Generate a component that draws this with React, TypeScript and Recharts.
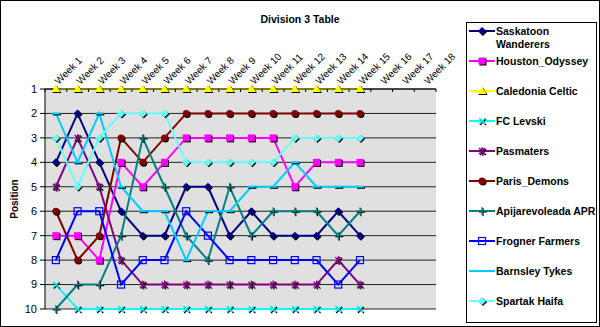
import React from "react"
import { LineChart, Line, XAxis, YAxis, CartesianGrid } from "recharts"

const weeks = [
  "Week 1", "Week 2", "Week 3", "Week 4", "Week 5", "Week 6", "Week 7", "Week 8", "Week 9",
  "Week 10", "Week 11", "Week 12", "Week 13", "Week 14", "Week 15", "Week 16", "Week 17", "Week 18",
]
const positions = [1, 2, 3, 4, 5, 6, 7, 8, 9, 10]

const saskatoon = [4, 2, 4, 6, 7, 7, 5, 5, 7, 6, 7, 7, 7, 6, 7]
const houston = [7, 7, 8, 4, 5, 4, 3, 3, 3, 3, 3, 5, 4, 4, 4]
const caledonia = [1, 1, 1, 1, 1, 1, 1, 1, 1, 1, 1, 1, 1, 1, 1]
const levski = [9, 10, 10, 10, 10, 10, 10, 10, 10, 10, 10, 10, 10, 10, 10]
const pasmaters = [5, 3, 5, 8, 9, 9, 9, 9, 9, 9, 9, 9, 9, 8, 9]
const paris = [6, 8, 7, 3, 4, 3, 2, 2, 2, 2, 2, 2, 2, 2, 2]
const apijarevoleada = [10, 9, 9, 7, 3, 5, 7, 8, 5, 7, 6, 6, 6, 7, 6]
const frogner = [8, 6, 6, 9, 8, 8, 6, 7, 8, 8, 8, 8, 8, 9, 8]
const barnsley = [2, 4, 2, 5, 6, 6, 8, 6, 6, 5, 5, 4, 5, 5, 5]
const spartak = [3, 5, 3, 2, 2, 2, 4, 4, 4, 4, 4, 3, 3, 3, 3]

type Shape = "diamond" | "square" | "triangle" | "x" | "asterisk" | "circle" | "plus" | "openSquare" | "dash"

const series: { key: string; name: string; color: string; shape: Shape; values: number[] }[] = [
  { key: "saskatoon", name: "Saskatoon Wanderers", color: "#000080", shape: "diamond", values: saskatoon },
  { key: "houston", name: "Houston_Odyssey", color: "#FF00FF", shape: "square", values: houston },
  { key: "caledonia", name: "Caledonia Celtic", color: "#FFFF00", shape: "triangle", values: caledonia },
  { key: "levski", name: "FC Levski", color: "#00FFFF", shape: "x", values: levski },
  { key: "pasmaters", name: "Pasmaters", color: "#800080", shape: "asterisk", values: pasmaters },
  { key: "paris", name: "Paris_Demons", color: "#800000", shape: "circle", values: paris },
  { key: "apijarevoleada", name: "Apijarevoleada APR", color: "#008080", shape: "plus", values: apijarevoleada },
  { key: "frogner", name: "Frogner Farmers", color: "#0000FF", shape: "openSquare", values: frogner },
  { key: "barnsley", name: "Barnsley Tykes", color: "#00CCFF", shape: "dash", values: barnsley },
  { key: "spartak", name: "Spartak Haifa", color: "#66FFFF", shape: "diamond", values: spartak },
]

const rows = weeks.map((week, i) => {
  const row: Record<string, any> = { week }
  series.forEach((s) => {
    row[s.key] = s.values[i]
  })
  return row
})

const W = 600
const H = 327
const LEFT = 45
const RIGHT_MARGIN = 164
const TOP = 89
const BOTTOM_MARGIN = 18
const STEP = (W - LEFT - RIGHT_MARGIN) / weeks.length
const FONT = "'Liberation Sans', Arial, sans-serif"

function shapeBody(shape: Shape, color: string, dx: number, dy: number) {
  const t = `translate(${dx},${dy})`
  switch (shape) {
    case "diamond":
      return <polygon transform={t} points="0,-4 4,0 0,4 -4,0" fill={color} />
    case "square":
      return <rect transform={t} x={-3.5} y={-3.5} width={7} height={7} fill={color} />
    case "triangle":
      return <polygon transform={t} points="0,-4.5 4.5,3 -4.5,3" fill={color} />
    case "circle":
      return <circle transform={t} r={3.5} fill={color} />
    case "x":
      return <path transform={t} d="M-3,-3L3,3M-3,3L3,-3" stroke={color} strokeWidth={1.2} />
    case "asterisk":
      return <path transform={t} d="M-3,-3L3,3M-3,3L3,-3M0,-4L0,4" stroke={color} strokeWidth={1.2} />
    case "plus":
      return <path transform={t} d="M-4,0L4,0M0,-4L0,4" stroke={color} strokeWidth={1.2} />
    case "openSquare":
      return <rect transform={t} x={-3.5} y={-3.5} width={7} height={7} fill="none" stroke={color} strokeWidth={1.2} />
    case "dash":
      return <path transform={t} d="M-4,0L4,0" stroke={color} strokeWidth={2} />
  }
}

function Marker({ cx, cy, shape, color }: { cx: number; cy: number; shape: Shape; color: string }) {
  return (
    <g transform={`translate(${cx},${cy})`}>
      {shape !== "openSquare" && shapeBody(shape, "#000", 1, 1)}
      {shapeBody(shape, color, 0, 0)}
    </g>
  )
}

function makeDot(shape: Shape, color: string) {
  return (p: any) => {
    if (p.cx == null || p.cy == null || p.value == null) return <g key={`d-${p.index}`} />
    return (
      <g key={`d-${p.index}`}>
        <Marker cx={p.cx} cy={p.cy} shape={shape} color={color} />
      </g>
    )
  }
}

function WeekTick(props: any) {
  const { x, y, payload, index } = props
  const axisY = y + 4
  return (
    <g>
      <line x1={x - STEP / 2} x2={x - STEP / 2} y1={axisY} y2={axisY + 3} stroke="#000" />
      {index === weeks.length - 1 && (
        <line x1={x + STEP / 2} x2={x + STEP / 2} y1={axisY} y2={axisY + 3} stroke="#000" />
      )}
      <text
        x={x + 3}
        y={y}
        transform={`rotate(-45 ${x + 3} ${y})`}
        fontSize={10}
        fontFamily={FONT}
        fill="#000"
      >
        {payload.value}
      </text>
    </g>
  )
}

function LegendBox() {
  return (
    <div
      style={{
        position: "absolute",
        left: 466,
        top: 22,
        width: 131,
        height: 301,
        border: "1px solid #000",
        boxSizing: "border-box",
        background: "#fff",
      }}
    >
      {series.map((s, i) => (
        <div
          key={s.key}
          style={{ position: "absolute", left: 2, top: 1 + i * 30, display: "flex", alignItems: "flex-start" }}
        >
          <svg width={27} height={14} style={{ flex: "none" }}>
            <line x1={0} x2={26} y1={7} y2={7} stroke={s.color} strokeWidth={2} />
            {s.shape !== "dash" && <Marker cx={13} cy={7} shape={s.shape} color={s.color} />}
          </svg>
          <span
            style={{
              fontFamily: FONT,
              fontWeight: "bold",
              fontSize: 10.5,
              lineHeight: "13px",
              marginTop: 1,
              whiteSpace: i === 0 ? "normal" : "nowrap",
              width: i === 0 ? 80 : undefined,
            }}
          >
            {s.name}
          </span>
        </div>
      ))}
    </div>
  )
}

export default function App() {
  return (
    <div style={{ position: "absolute", left: 0, top: 0, width: W, height: H, background: "#fff", fontFamily: FONT }}>
      <LineChart
        width={W}
        height={H}
        data={rows}
        margin={{ top: 0, right: RIGHT_MARGIN, bottom: BOTTOM_MARGIN, left: 0 }}
      >
        <CartesianGrid vertical={false} stroke="#222" fill="#E0E0E0" fillOpacity={1} />
        <XAxis
          dataKey="week"
          orientation="top"
          height={TOP}
          interval={0}
          tickSize={0}
          tickMargin={4}
          tickLine={false}
          axisLine={{ stroke: "#000" }}
          padding={{ left: STEP / 2, right: STEP / 2 }}
          tick={WeekTick}
        />
        <XAxis
          xAxisId="b"
          dataKey="week"
          orientation="bottom"
          height={0}
          tick={false}
          tickLine={false}
          axisLine={{ stroke: "#808080" }}
          padding={{ left: STEP / 2, right: STEP / 2 }}
        />
        <YAxis
          type="number"
          reversed
          domain={[1, 10]}
          ticks={positions}
          interval={0}
          width={LEFT}
          tickSize={5}
          tickMargin={3}
          axisLine={{ stroke: "#000" }}
          tickLine={{ stroke: "#000" }}
          tick={{ fill: "#000", fontSize: 11, fontFamily: FONT }}
        />
        <YAxis
          yAxisId="r"
          orientation="right"
          type="number"
          reversed
          domain={[1, 10]}
          width={0}
          tick={false}
          tickLine={false}
          axisLine={{ stroke: "#808080" }}
        />
        {series.map((s) => (
          <Line
            key={s.key}
            dataKey={s.key}
            name={s.name}
            type="linear"
            stroke={s.color}
            strokeWidth={2}
            dot={makeDot(s.shape, s.color)}
            activeDot={false}
            isAnimationActive={false}
          />
        ))}
      </LineChart>
      <div
        style={{
          position: "absolute",
          left: 0,
          width: W,
          top: 12,
          textAlign: "center",
          fontWeight: "bold",
          fontSize: 10.5,
          lineHeight: "14px",
        }}
      >
        Division 3 Table
      </div>
      <div
        style={{
          position: "absolute",
          left: 15 - 30,
          top: 199 - 7,
          width: 60,
          height: 14,
          lineHeight: "14px",
          textAlign: "center",
          fontWeight: "bold",
          fontSize: 10,
          transform: "rotate(-90deg)",
        }}
      >
        Position
      </div>
      <LegendBox />
      <div
        style={{
          position: "absolute",
          left: 0,
          top: 0,
          width: W,
          height: H,
          border: "1px solid #000",
          boxSizing: "border-box",
          pointerEvents: "none",
        }}
      />
    </div>
  )
}
